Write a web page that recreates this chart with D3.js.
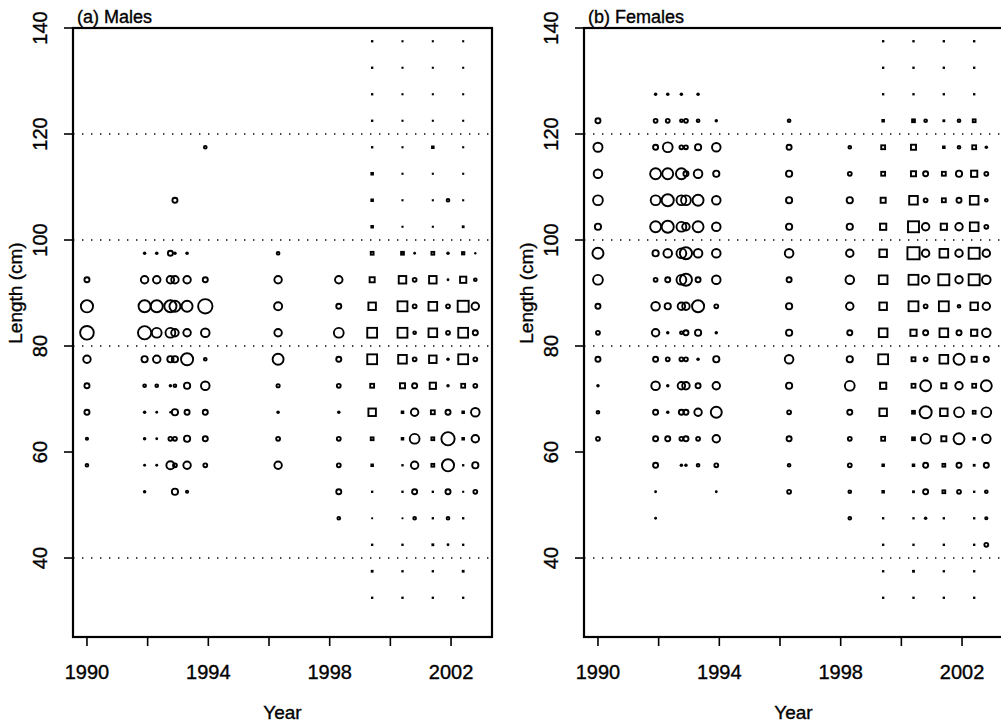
<!DOCTYPE html>
<html>
<head>
<meta charset="utf-8">
<script src="https://cdn.jsdelivr.net/npm/d3@7"></script>
<style>
  html, body { margin: 0; padding: 0; background: #fff; }
  svg text { font-family: "Liberation Sans", Arial, sans-serif; fill: #000; stroke: #000; stroke-width: 0.35px; }
</style>
</head>
<body>
<svg id="chart" width="1001" height="728"></svg>
<script>
// Length-class mid-points (cm), bottom to top
const lengthMids = d3.range(22).map(i => 32.5 + 5 * i);
// Sampling occasions (decimal year) and the sampling programme of each
const sampleTimes = [1990.0, 1991.9, 1992.3, 1992.75, 1992.9, 1993.3, 1993.9, 1996.3,
                     1998.3, 1999.4, 2000.4, 2000.8, 2001.4, 2001.9, 2002.4, 2002.8];
const sampleSet   = ["A", "A", "A", "A", "A", "A", "A", "A",
                     "A", "B", "B", "A", "B", "A", "B", "A"];
const yearTicks = [1990, 1992, 1994, 1996, 1998, 2000, 2002];
const yearLabels = [1990, 1994, 1998, 2002];
const lengthTicks = [40, 60, 80, 100, 120, 140];
const refLines = [40, 80, 100, 120];

// Percentage of the catch in each length class, one row per sampling occasion
const malesPct = [
  [0,0,0,0,0,1.0,0.8,2.2,2.2,4.0,11,9,2.2,0,0,0,0,0,0,0,0,0],
  [0,0,0,0,0.56,0.4,0.56,0.56,1.0,3.0,10.4,8.9,4.0,0.56,0,0,0,0,0,0,0,0],
  [0,0,0,0,0,0.4,0.36,0.36,1.0,4.0,6.2,8.9,4.0,0.56,0,0,0,0,0,0,0,0],
  [0,0,0,0,0,4.5,1.5,0.25,0.56,3.0,6.2,8.9,4.0,2.2,0,0,0,0,0,0,0,0],
  [0,0,0,0,3.0,1.5,1.5,3.0,1.0,3.0,4.0,7.5,4.0,0.56,0,2.2,0,0,0,0,0,0],
  [0,0,0,0,0.8,4.0,3.0,2.2,3.0,8.9,4.0,7.5,4.0,0.56,0,0,0,0,0,0,0,0],
  [0,0,0,0,0,1.5,2.2,2.2,5.0,1.0,5.0,12,2.2,0,0,0,0,1.0,0,0,0,0],
  [0,0,0,0,0,4.0,1.5,0.56,1.2,7.5,4.0,4.5,4.0,1.0,0,0,0,0,0,0,0,0],
  [0,0,0,1.0,2.2,1.5,1.5,0.56,1.5,2.2,6.2,2.2,4.0,0,0,0,0,0,0,0,0,0],
  [0.25,0.36,0.25,0.16,0.25,0.56,1.0,4.0,1.5,6.2,6.2,4.0,2.2,1.0,0.56,0.56,0.56,0.25,0.25,0.25,0.25,0.25],
  [0.25,0.25,0.25,0.16,0.25,0.25,0.56,0.56,2.2,5.0,6.2,6.2,4.0,1.0,0.2,0.2,0.2,0.2,0.2,0.2,0.2,0.2],
  [0,0,0,1.0,2.2,4.0,6.2,4.0,2.2,1.5,1.0,1.5,1.5,0.36,0,0,0,0,0,0,0,0],
  [0.25,0.25,0.36,0.25,0.25,1.0,1.0,1.5,3.0,4.0,5.0,5.0,4.0,1.0,0.2,0.2,0.2,0.56,0.2,0.2,0.2,0.2],
  [0,0,0.36,1.0,2.2,8.9,10.4,2.2,0.56,0.56,1.5,1.5,0.36,0.56,0,1.0,0,0,0,0,0,0],
  [0.25,0.36,0.25,0.25,0.2,0.25,0.56,0.56,1.5,6.2,6.2,7.5,3.0,0.8,0.36,0.2,0.2,0.2,0.2,0.2,0.2,0.2],
  [0,0,0,0,1.5,3.0,4.0,5.0,1.5,1.5,2.2,4.0,1.0,0.25,0,0,0,0,0,0,0,0]
];
const femalesPct = [
  [0,0,0,0,0,0,1.5,1.0,0.56,2.2,1.5,2.2,6.2,7.5,3.0,6.2,5.0,5.5,2.2,0,0,0],
  [0,0,0,0.36,0.36,2.2,2.2,2.2,5.0,2.2,4.0,5.0,1.5,3.0,7.5,6.2,7.5,2.2,1.5,0.56,0,0],
  [0,0,0,0,0,0,2.2,0.56,0.56,1.5,0.56,3.0,2.2,5.0,8.9,8.9,7.5,6.2,1.5,0.56,0,0],
  [0,0,0,0,0,0.56,1.5,2.2,4.0,1.5,1.0,4.0,6.2,6.2,6.2,6.2,7.5,1.5,1.0,0.56,0,0],
  [0,0,0,0,0,0.56,2.2,2.2,4.0,1.5,2.2,4.0,8.9,8.9,4.0,6.2,2.2,1.5,1.5,0,0,0],
  [0,0,0,0,0,1.0,1.5,4.0,2.2,0.56,3.0,8.9,2.2,5.0,7.5,7.5,5.0,3.0,1.0,0.56,0,0],
  [0,0,0,0,0.36,1.5,4.0,7.5,4.0,3.0,0.56,1.5,5.0,5.0,5.0,5.0,3.0,5.0,0.56,0,0,0],
  [0,0,0,0,1.5,1.0,2.2,1.5,3.0,5.0,3.0,3.0,2.2,5.0,3.0,3.0,3.0,2.2,1.0,0,0,0],
  [0,0,0,1.0,1.0,1.5,1.5,2.2,6.2,3.0,2.2,4.0,5.0,4.0,3.0,3.0,1.5,1.0,0,0,0,0],
  [0.25,0.25,0.25,0.25,0.56,0.56,1.5,4.0,3.0,6.2,5.0,4.0,5.0,4.0,3.0,2.2,1.5,1.5,0.56,0.25,0.25,0.25],
  [0.25,0.36,0.25,0.25,0.36,0.56,1.0,1.0,1.5,1.5,3.0,6.2,6.2,8.9,7.5,5.0,2.2,2.2,1.0,0.25,0.25,0.25],
  [0,0,0,0.56,2.2,2.2,6.2,8.9,7.5,1.5,2.2,1.5,4.0,4.0,4.0,1.5,2.2,0,1.0,0,0,0],
  [0.25,0.25,0.25,0.25,1.0,1.0,2.2,4.0,2.2,5.0,5.0,6.2,7.5,5.0,3.0,1.5,1.5,0.56,0.36,0.25,0.25,0.25],
  [0,0,0,0,1.5,2.2,7.5,6.2,4.0,7.5,2.2,1.0,4.0,4.0,4.0,2.2,3.0,1.0,1.0,0,0,0],
  [0.25,0.25,0.25,0.25,0.25,0.36,0.56,1.0,1.5,2.2,3.0,4.0,7.5,7.5,5.0,5.0,3.0,1.5,1.0,0.25,0.25,0.25],
  [0,0,1.5,0.8,1.0,2.2,5.0,6.2,7.5,2.2,5.0,4.0,5.0,4.0,1.5,1.0,1.5,0.56,0,0,0,0]
];

const svg = d3.select("#chart");
const W = 419, H = 609, TOP = 28;
const SW = 1.9;

const x = d3.scaleLinear().domain([1989.54, 2003.35]).range([0, W]);
const y = d3.scaleLinear().domain([25.1, 140]).range([H, 0]);
const size = d3.scaleSqrt().domain([0, 20]).range([0, 10.5]);

function panel(left, title, pct) {
  const g = svg.append("g").attr("transform", `translate(${left},${TOP})`);

  // reference lines
  g.selectAll("line.ref").data(refLines).join("line")
    .attr("x1", 0).attr("x2", W)
    .attr("y1", d => y(d)).attr("y2", d => y(d))
    .attr("stroke", "#000").attr("stroke-width", 1.4)
    .attr("stroke-dasharray", "1.4 7.6");

  // bubbles
  const cells = [];
  pct.forEach((col, i) => col.forEach((v, j) => {
    if (v > 0) cells.push({ t: sampleTimes[i], set: sampleSet[i], len: lengthMids[j], v });
  }));

  const circ = cells.filter(d => d.set === "A");
  const sq = cells.filter(d => d.set === "B");

  g.selectAll("circle.b").data(circ).join("circle")
    .attr("cx", d => x(d.t)).attr("cy", d => y(d.len))
    .attr("r", d => { const r = size(d.v); return r < SW ? r : r - SW / 2; })
    .attr("fill", d => size(d.v) < SW ? "#000" : "none")
    .attr("stroke", d => size(d.v) < SW ? "none" : "#000")
    .attr("stroke-width", SW);

  g.selectAll("rect.b").data(sq).join("rect")
    .each(function(d) {
      const h = size(d.v);
      const s = h < SW ? 2 * h : 2 * h - SW;
      d3.select(this)
        .attr("x", x(d.t) - s / 2).attr("y", y(d.len) - s / 2)
        .attr("width", s).attr("height", s)
        .attr("fill", h < SW ? "#000" : "none")
        .attr("stroke", h < SW ? "none" : "#000")
        .attr("stroke-width", SW);
    });

  // frame
  g.append("rect").attr("x", 0).attr("y", 0).attr("width", W).attr("height", H)
    .attr("fill", "none").attr("stroke", "#000").attr("stroke-width", 2.2);

  // x axis
  const xa = g.append("g").attr("transform", `translate(0,${H})`);
  xa.selectAll("line").data(yearTicks).join("line")
    .attr("x1", d => x(d)).attr("x2", d => x(d)).attr("y1", 0).attr("y2", 9)
    .attr("stroke", "#000").attr("stroke-width", 1.6);
  xa.selectAll("text").data(yearLabels).join("text")
    .attr("x", d => x(d)).attr("y", 42)
    .attr("text-anchor", "middle").attr("font-size", 20).text(d => d);

  // y axis
  const ya = g.append("g");
  ya.selectAll("line").data(lengthTicks).join("line")
    .attr("x1", -9).attr("x2", 0).attr("y1", d => y(d)).attr("y2", d => y(d))
    .attr("stroke", "#000").attr("stroke-width", 1.6);
  ya.selectAll("text").data(lengthTicks).join("text")
    .attr("transform", d => `translate(-26,${y(d)}) rotate(-90)`)
    .attr("text-anchor", "middle").attr("font-size", 20).text(d => d);

  g.append("text").attr("transform", `translate(-51,${y(90)}) rotate(-90)`)
    .attr("text-anchor", "middle").attr("font-size", 19).text("Length (cm)");
  g.append("text").attr("x", W / 2).attr("y", H + 82)
    .attr("text-anchor", "middle").attr("font-size", 19).text("Year");
  g.append("text").attr("x", 4).attr("y", -5)
    .attr("font-size", 18).text(title);
}

panel(73, "(a) Males", malesPct);
panel(584, "(b) Females", femalesPct);
</script>
</body>
</html>
